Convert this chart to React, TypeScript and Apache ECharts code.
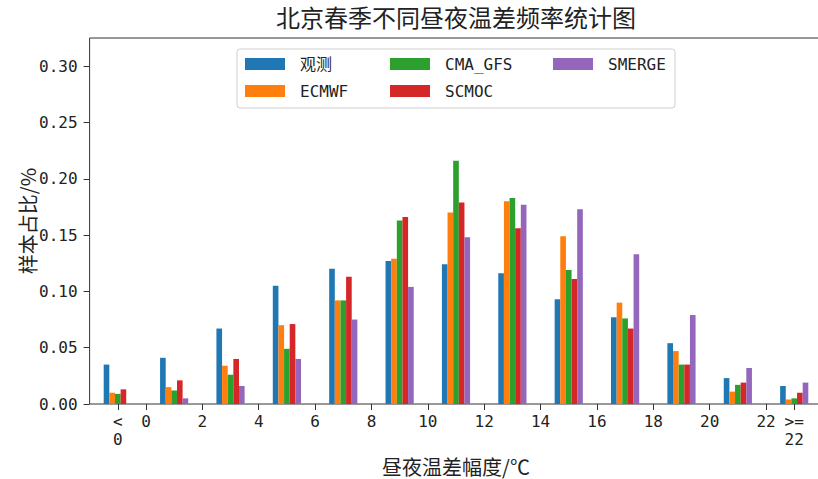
import React, { useEffect, useRef } from "react";
import * as echarts from "echarts";

// ---- data ----
const categories = ["<0", "0-2", "2-4", "4-6", "6-8", "8-10", "10-12", "12-14", "14-16", "16-18", "18-20", "20-22", ">=22"];
const seriesNames = ["观测", "ECMWF", "CMA_GFS", "SCMOC", "SMERGE"];
const obsValues = [0.035, 0.041, 0.067, 0.105, 0.120, 0.127, 0.124, 0.116, 0.093, 0.077, 0.054, 0.023, 0.016];
const ecmwfValues = [0.010, 0.015, 0.034, 0.070, 0.092, 0.129, 0.170, 0.180, 0.149, 0.090, 0.047, 0.011, 0.004];
const cmaValues = [0.009, 0.012, 0.026, 0.049, 0.092, 0.163, 0.216, 0.183, 0.119, 0.076, 0.035, 0.017, 0.005];
const scmocValues = [0.013, 0.021, 0.040, 0.071, 0.113, 0.166, 0.179, 0.156, 0.111, 0.067, 0.035, 0.019, 0.010];
const smergeValues = [0.000, 0.005, 0.016, 0.040, 0.075, 0.104, 0.148, 0.177, 0.173, 0.133, 0.079, 0.032, 0.019];
const xTickValues = [-1, 0, 2, 4, 6, 8, 10, 12, 14, 16, 18, 20, 22, 23];
const xTickLabels = ["<\n0", "0", "2", "4", "6", "8", "10", "12", "14", "16", "18", "20", "22", ">=\n22"];
const yTickValues = [0, 0.05, 0.1, 0.15, 0.2, 0.25, 0.3];

const colors = ["#1f77b4", "#ff7f0e", "#2ca02c", "#d62728", "#9467bd"];
const allValues = [obsValues, ecmwfValues, cmaValues, scmocValues, smergeValues];

const MONO = "'DejaVu Sans Mono', 'Noto Sans CJK SC', monospace";
const CJK = "'Noto Sans CJK SC', sans-serif";
const AXIS = "#333";

const GRID_LEFT = 89.6;
const GRID_TOP = 38;
const GRID_W = 732.8;
const GRID_H = 366;

const legendPos = [
  { left: 245, top: 56 },
  { left: 245, top: 83 },
  { left: 390, top: 56 },
  { left: 390, top: 83 },
  { left: 553, top: 56 },
];

export default function App() {
  const ref = useRef<HTMLDivElement>(null);
  useEffect(() => {
    if (!ref.current) return;
    const chart = echarts.init(ref.current, null, { renderer: "svg" });
    const option: any = {
      animation: false,
      color: colors,
      textStyle: { fontFamily: MONO, color: "#222" },
      grid: {
        left: GRID_LEFT,
        top: GRID_TOP,
        width: GRID_W,
        height: GRID_H,
        containLabel: false,
        outerBoundsMode: "none",
        show: true,
        borderColor: AXIS,
        borderWidth: 1,
        backgroundColor: "transparent",
      },
      graphic: [
        {
          type: "text",
          x: GRID_LEFT + GRID_W / 2,
          y: 16,
          style: {
            text: "北京春季不同昼夜温差频率统计图",
            fontFamily: CJK,
            fontSize: 24,
            fill: "#222",
            textAlign: "center",
            textVerticalAlign: "middle",
          },
        },
        {
          type: "text",
          x: 27,
          y: GRID_TOP + GRID_H / 2,
          rotation: Math.PI / 2,
          style: {
            text: "样本占比/%",
            fontFamily: CJK,
            fontSize: 20,
            fill: "#222",
            textAlign: "center",
            textVerticalAlign: "middle",
          },
        },
        {
          type: "rect",
          z: 1,
          shape: { x: 237, y: 49, width: 438, height: 59, r: 3 },
          style: { fill: "rgba(255,255,255,0.8)", stroke: "#d0d0d0", lineWidth: 1 },
        },
      ],
      legend: seriesNames.map((n, i) => ({
        data: [n],
        left: legendPos[i].left,
        top: legendPos[i].top,
        padding: 0,
        icon: "rect",
        itemWidth: 40,
        itemHeight: 12,
        selectedMode: false,
        textStyle: { fontFamily: MONO, fontSize: 16, color: "#222", padding: [0, 0, 0, 10] },
      })),
      xAxis: [
        {
          type: "category",
          data: categories,
          boundaryGap: true,
          axisLine: { show: false, onZero: false },
          axisTick: { show: false },
          axisLabel: { show: false },
          splitLine: { show: false },
        },
        {
          type: "value",
          min: -2,
          max: 24,
          position: "bottom",
          name: "昼夜温差幅度/℃",
          nameLocation: "middle",
          nameGap: 52,
          nameTextStyle: { fontFamily: CJK, fontSize: 20, color: "#222" },
          axisLine: { show: false, onZero: false },
          axisTick: { show: true, length: 6, lineStyle: { color: AXIS }, customValues: xTickValues },
          axisLabel: {
            show: true,
            customValues: xTickValues,
            margin: 8,
            fontSize: 16,
            lineHeight: 18,
            fontFamily: MONO,
            color: "#222",
            formatter: (v: number) => {
              const i = xTickValues.indexOf(v);
              return i >= 0 ? xTickLabels[i] : "";
            },
          },
          splitLine: { show: false },
        },
      ],
      yAxis: {
        type: "value",
        min: 0,
        max: 0.325,
        axisLine: { show: false, onZero: false },
        axisTick: { show: true, length: 6, lineStyle: { color: AXIS }, customValues: yTickValues },
        axisLabel: {
          customValues: yTickValues,
          margin: 12,
          fontSize: 16,
          fontFamily: MONO,
          color: "#222",
          formatter: (v: number) => v.toFixed(2),
        },
        splitLine: { show: false },
      },
      series: seriesNames.map((n, i) => ({
        name: n,
        type: "bar",
        xAxisIndex: 0,
        yAxisIndex: 0,
        data: allValues[i],
        barGap: "0%",
        barCategoryGap: "50%",
        itemStyle: { color: colors[i] },
      })),
    };
    chart.setOption(option);
    return () => chart.dispose();
  }, []);
  return (
    <div
      ref={ref}
      style={{ position: "absolute", left: 0, top: 0, width: 818, height: 479 }}
    />
  );
}
